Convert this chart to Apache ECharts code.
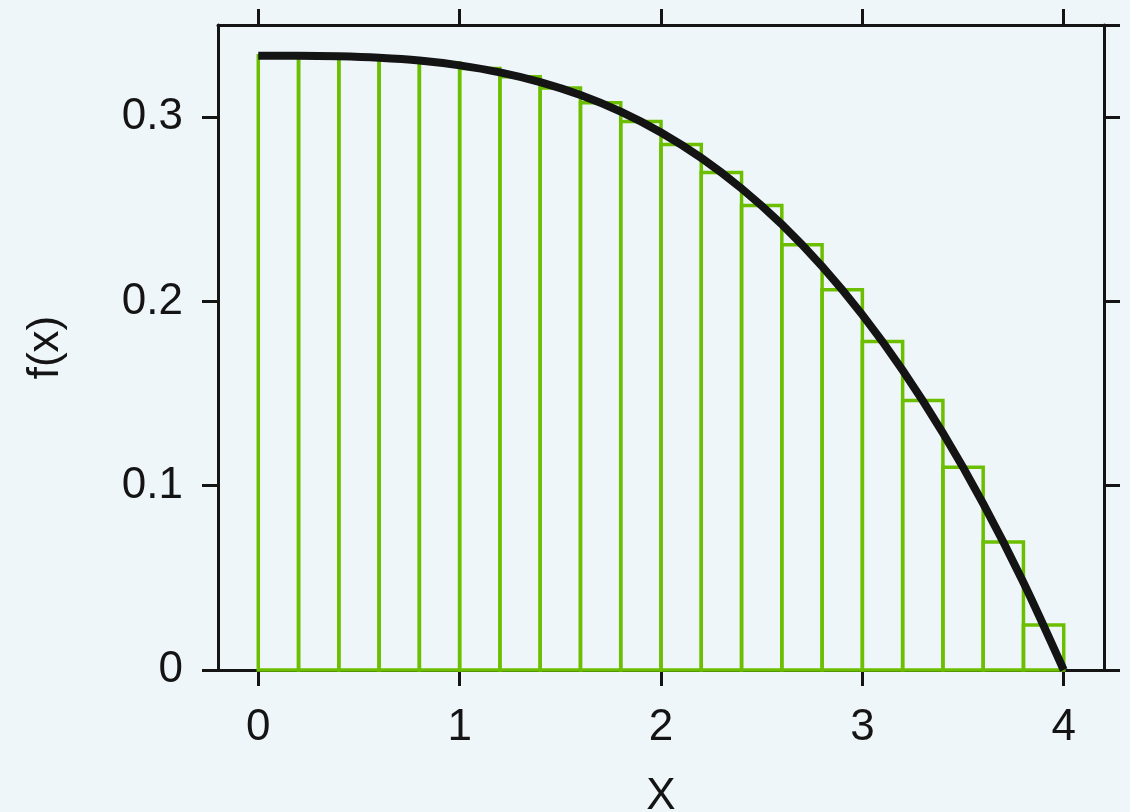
<!DOCTYPE html>
<html>
<head>
<meta charset="utf-8">
<title>f(x) with midpoint rectangles</title>
<script src="https://cdn.jsdelivr.net/npm/echarts@6/dist/echarts.min.js"></script>
<style>
  html, body { margin: 0; padding: 0; background: #eff6fa; overflow: hidden; }
  #chart { width: 1130px; height: 812px; }
</style>
</head>
<body>
<div id="chart"></div>
<script>
// Bin edges of the rectangles and the height of each rectangle
var binEdges = [0, 0.2, 0.4, 0.6, 0.8, 1.0, 1.2, 1.4, 1.6, 1.8, 2.0,
                2.2, 2.4, 2.6, 2.8, 3.0, 3.2, 3.4, 3.6, 3.8, 4.0];
var binHeights = [0.3333, 0.3332, 0.3327, 0.3316, 0.3295, 0.3264, 0.3219, 0.3158, 0.3078, 0.2976,
                  0.2851, 0.2700, 0.2520, 0.2308, 0.2063, 0.1782, 0.1462, 0.1100, 0.0695, 0.0244];

// Curve f(x)
var curveX = [0, 0.2, 0.4, 0.6, 0.8, 1.0, 1.2, 1.4, 1.6, 1.8, 2.0,
              2.2, 2.4, 2.6, 2.8, 3.0, 3.2, 3.4, 3.6, 3.8, 4.0];
var curveY = [0.3333, 0.3333, 0.3330, 0.3322, 0.3307, 0.3281, 0.3243, 0.3190, 0.3120, 0.3030, 0.2917,
              0.2779, 0.2613, 0.2418, 0.2190, 0.1927, 0.1627, 0.1286, 0.0903, 0.0475, 0];

// Tick positions
var xTicks = [0, 1, 2, 3, 4];
var yTicks = [0, 0.1, 0.2, 0.3];
var yTicksRight = [0, 0.1, 0.2, 0.3, 0.35];

var INK = '#141414';
var GREEN = '#6cbf00';
var FONT = 'Liberation Sans';

var bins = binHeights.map(function (h, i) { return [binEdges[i], binEdges[i + 1], h]; });
var curve = curveX.map(function (x, i) { return [x, curveY[i]]; });

var axisLineStyle = { show: true, onZero: false, lineStyle: { color: INK, width: 3 } };
var tickStyle = { show: true, inside: false, length: 16, lineStyle: { color: INK, width: 3 } };

var chart = echarts.init(document.getElementById('chart'), null, { renderer: 'canvas' });
chart.setOption({
  backgroundColor: '#eff6fa',
  animation: false,
  grid: { left: 218, right: 26, top: 25, bottom: 142, containLabel: false, outerBoundsMode: 'none' },
  xAxis: [{
    type: 'value', position: 'bottom', min: -0.2, max: 4.2,
    name: 'X', nameLocation: 'middle', nameGap: 105,
    nameTextStyle: { fontFamily: FONT, fontSize: 44, color: INK },
    axisLine: axisLineStyle,
    axisTick: Object.assign({ customValues: xTicks }, tickStyle),
    axisLabel: { customValues: xTicks, margin: 36, fontFamily: FONT, fontSize: 44, color: INK },
    splitLine: { show: false }
  }, {
    type: 'value', position: 'top', min: -0.2, max: 4.2,
    axisLine: axisLineStyle,
    axisTick: Object.assign({ customValues: xTicks }, tickStyle),
    axisLabel: { show: false },
    splitLine: { show: false }
  }],
  yAxis: [{
    type: 'value', position: 'left', min: 0, max: 0.35,
    name: 'f(x)', nameLocation: 'middle', nameGap: 150, nameRotate: 90,
    nameTextStyle: { fontFamily: FONT, fontSize: 44, color: INK },
    axisLine: axisLineStyle,
    axisTick: Object.assign({ customValues: yTicks }, tickStyle),
    axisLabel: { customValues: yTicks, margin: 35, fontFamily: FONT, fontSize: 44, color: INK },
    splitLine: { show: false }
  }, {
    type: 'value', position: 'right', min: 0, max: 0.35,
    axisLine: axisLineStyle,
    axisTick: Object.assign({ customValues: yTicksRight }, tickStyle),
    axisLabel: { show: false },
    splitLine: { show: false }
  }],
  series: [{
    type: 'custom',
    xAxisIndex: 0, yAxisIndex: 0,
    data: bins,
    encode: { x: [0, 1], y: 2 },
    renderItem: function (params, api) {
      var p0 = api.coord([api.value(0), api.value(2)]);
      var p1 = api.coord([api.value(1), 0]);
      return {
        type: 'rect',
        shape: { x: p0[0], y: p0[1], width: p1[0] - p0[0], height: p1[1] - p0[1] },
        style: { fill: 'none', stroke: GREEN, lineWidth: 3.5 }
      };
    },
    z: 2
  }, {
    type: 'line',
    xAxisIndex: 0, yAxisIndex: 0,
    data: curve,
    smooth: 0.3,
    showSymbol: false,
    lineStyle: { color: INK, width: 8, cap: 'butt' },
    z: 3
  }]
});
</script>
</body>
</html>
